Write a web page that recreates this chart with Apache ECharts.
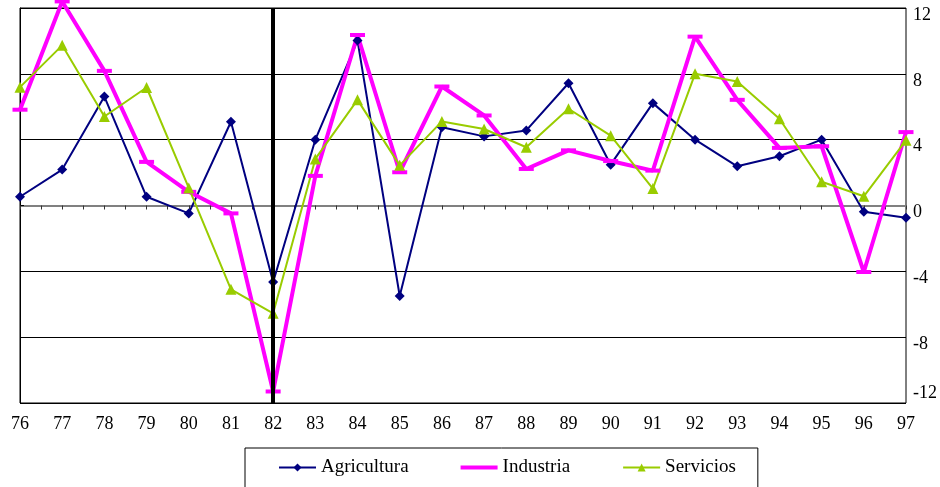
<!DOCTYPE html>
<html>
<head>
<meta charset="utf-8">
<script src="https://cdn.jsdelivr.net/npm/echarts@6/dist/echarts.min.js"></script>
<style>html,body{margin:0;padding:0;background:#fff;}#c{width:940px;height:487px;}</style>
</head>
<body>
<div id="c"></div>
<script>
var years = ['76','77','78','79','80','81','82','83','84','85','86','87','88','89','90','91','92','93','94','95','96','97'];
var agricultura = [0.53, 2.18, 6.62, 0.53, -0.48, 5.09, -4.65, 4.0, 10.02, -5.5, 4.75, 4.2, 4.56, 7.43, 2.48, 6.22, 4.0, 2.38, 2.99, 4.0, -0.38, -0.75];
var industria = [5.82, 12.4, 8.18, 2.65, 0.83, -0.48, -11.3, 1.8, 10.36, 2.02, 7.23, 5.47, 2.22, 3.35, 2.7, 2.12, 10.26, 6.42, 3.5, 3.6, -4.04, 4.46];
var servicios = [7.19, 9.73, 5.41, 7.17, 1.07, -5.09, -6.55, 2.83, 6.42, 2.44, 5.11, 4.65, 3.54, 5.88, 4.24, 1.03, 8.0, 7.53, 5.27, 1.44, 0.56, 3.96];
var yTicks = [-12, -8, -4, 0, 4, 8, 12];
var breakYear = '82';

var FONT = '"Liberation Serif", "Times New Roman", serif';
var chart = echarts.init(document.getElementById('c'), null, {renderer: 'canvas'});
chart.setOption({
  animation: false,
  backgroundColor: '#fff',
  grid: {left: 20, right: 34, top: 8, bottom: 84, show: true, borderColor: '#000', borderWidth: 1, containLabel: false},
  legend: {
    left: 245, top: 448,
    padding: [10, 22, 30, 33],
    itemGap: 52, itemWidth: 37, itemHeight: 10,
    borderColor: '#000', borderWidth: 1, borderRadius: 0,
    backgroundColor: '#fff',
    symbolKeepAspect: true,
    textStyle: {fontFamily: FONT, fontSize: 19, color: '#000'},
    data: ['Agricultura', {name: 'Industria', icon: 'path://M0 0H37V4H0Z'}, 'Servicios']
  },
  xAxis: [{
    type: 'category', data: years, boundaryGap: false, position: 'bottom',
    axisLine: {show: false, onZero: false}, axisTick: {show: false},
    axisLabel: {fontFamily: FONT, fontSize: 18, color: '#000', margin: 12, interval: 0},
    splitLine: {show: false}
  }, {
    type: 'value', min: 0, max: years.length - 1, interval: 1, position: 'bottom',
    axisLine: {show: true, onZero: true, onZeroAxisIndex: 0, lineStyle: {color: '#808080', width: 2}},
    axisTick: {show: true, length: 4, lineStyle: {color: '#333', width: 1}},
    minorTick: {show: true, splitNumber: 2, length: 4, lineStyle: {color: '#333', width: 1}},
    axisLabel: {show: false},
    splitLine: {show: false}
  }],
  yAxis: {
    type: 'value', position: 'right', min: yTicks[0], max: yTicks[yTicks.length - 1], interval: 4,
    axisLine: {show: true, lineStyle: {color: '#000', width: 1}},
    axisTick: {show: true, length: 4, lineStyle: {color: '#000'}},
    axisLabel: {
      fontFamily: FONT, fontSize: 18, color: '#000', margin: 7, padding: [14, 0, 0, 0],
      formatter: function (v) { return v === yTicks[0] ? '{up|' + v + '}' : String(v); },
      rich: {up: {fontFamily: FONT, fontSize: 18, color: '#000', padding: [0, 0, 34, 0]}}
    },
    splitLine: {show: true, lineStyle: {color: '#000', width: 1}}
  },
  series: [{
    name: 'Agricultura', type: 'line', data: agricultura, xAxisIndex: 0,
    symbol: 'diamond', symbolSize: 10,
    lineStyle: {color: '#000080', width: 2},
    itemStyle: {color: '#000080'}
  }, {
    name: 'Industria', type: 'line', data: industria, xAxisIndex: 0, clip: false,
    symbol: 'rect', symbolSize: [15, 4],
    lineStyle: {color: '#FF00FF', width: 4},
    itemStyle: {color: '#FF00FF'}
  }, {
    name: 'Servicios', type: 'line', data: servicios, xAxisIndex: 0,
    symbol: 'triangle', symbolSize: 11,
    lineStyle: {color: '#99CC00', width: 2},
    itemStyle: {color: '#99CC00'},
    markLine: {
      silent: true, symbol: ['none', 'none'], label: {show: false},
      lineStyle: {color: '#000', width: 4, type: 'solid'},
      data: [{xAxis: breakYear}]
    }
  }]
});
</script>
</body>
</html>
